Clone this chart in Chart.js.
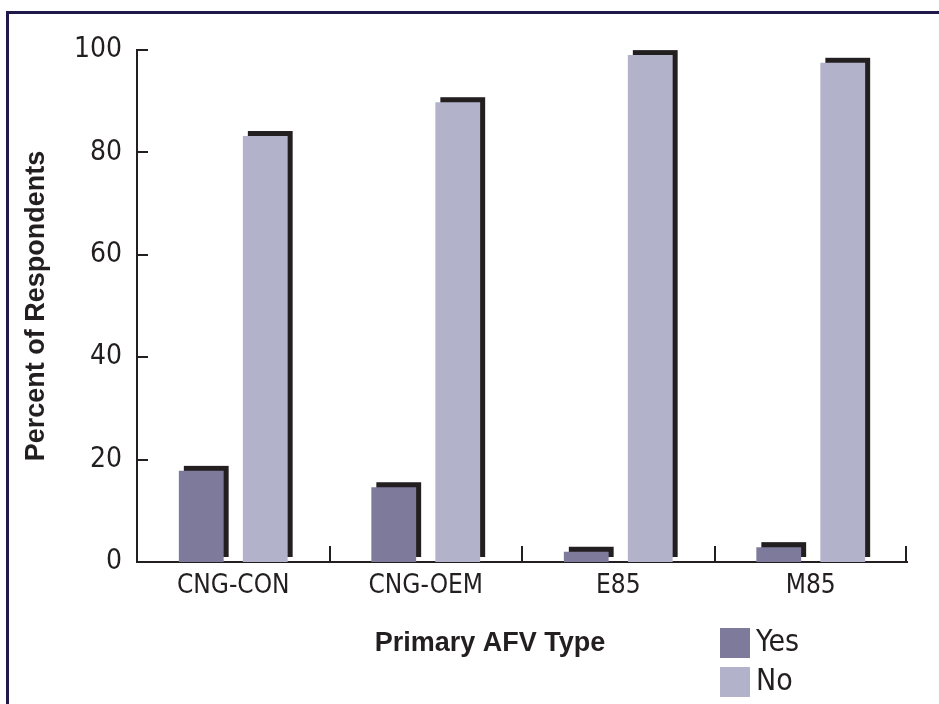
<!DOCTYPE html>
<html lang="en">

<head>
  <meta charset="UTF-8">
  <title>Primary AFV Type</title>
  <script src="https://cdn.jsdelivr.net/npm/chart.js"></script>
  <style>
    body {
      margin: 0;
      background: #ffffff;
      overflow: hidden;
    }

    .frame {
      position: absolute;
      left: 6px;
      top: 11px;
      width: 2000px;
      height: 2000px;
      border-left: 3px solid #1f1a4a;
      border-top: 3px solid #1f1a4a;
    }

    .wrap {
      position: absolute;
      left: 0;
      top: 0;
      width: 939px;
      height: 704px;
    }
  </style>
</head>

<body>
  <div class="frame"></div>
  <div class="wrap">
    <canvas id="afvChart" width="939" height="704"></canvas>
  </div>

  <script>
    const categories = ["CNG-CON", "CNG-OEM", "E85", "M85"];
    const yesValues = [17.8, 14.6, 2.0, 2.9];
    const noValues = [83.2, 89.8, 99.0, 97.5];
    const yTicks = [0, 20, 40, 60, 80, 100];

    const ink = "#231f20";
    const narrow = "'DejaVu Sans Condensed', 'Liberation Sans', sans-serif";
    const regular = "'Liberation Sans', Arial, sans-serif";

    // black block behind each bar, shifted up and right
    const shadowPlugin = {
      id: "shadow",
      beforeDatasetsDraw(chart) {
        const ctx = chart.ctx;
        ctx.save();
        ctx.fillStyle = ink;
        chart.data.datasets.forEach((ds, i) => {
          chart.getDatasetMeta(i).data.forEach(bar => {
            const h = bar.base - bar.y;
            ctx.fillRect(bar.x - bar.width / 2 + 5, bar.y - 5, bar.width, h);
          });
        });
        ctx.restore();
      }
    };

    // inward ticks, x title and legend
    const decorPlugin = {
      id: "decor",
      afterDraw(chart) {
        const ctx = chart.ctx;
        const area = chart.chartArea;
        const y = chart.scales.y;
        const x = chart.scales.x;
        ctx.save();
        ctx.strokeStyle = ink;
        ctx.lineWidth = 2;

        yTicks.forEach(v => {
          const py = Math.round(y.getPixelForValue(v));
          ctx.beginPath();
          ctx.moveTo(area.left, py);
          ctx.lineTo(area.left + 11, py);
          ctx.stroke();
        });

        const step = (x.right - x.left) / categories.length;
        for (let i = 1; i <= categories.length; i++) {
          const px = Math.round(x.left + i * step) - (i === categories.length ? 1 : 0);
          ctx.beginPath();
          ctx.moveTo(px, area.bottom);
          ctx.lineTo(px, area.bottom - 16);
          ctx.stroke();
        }

        ctx.fillStyle = ink;
        ctx.font = "bold 27px " + regular;
        ctx.textAlign = "center";
        ctx.textBaseline = "alphabetic";
        ctx.fillText("Primary AFV Type", 490, 651);

        const items = chart.data.datasets;
        ctx.font = "30px " + narrow;
        ctx.textAlign = "left";
        ctx.textBaseline = "middle";
        items.forEach((ds, i) => {
          const top = 628 + i * 39;
          ctx.fillStyle = ds.backgroundColor;
          ctx.fillRect(720, top, 30, 30);
          ctx.fillStyle = ink;
          ctx.fillText(ds.label, 756, top + 15);
        });
        ctx.restore();
      }
    };

    new Chart(document.getElementById("afvChart"), {
      type: "bar",
      data: {
        labels: categories,
        datasets: [
          { label: "Yes", data: yesValues, backgroundColor: "#7e7a9c", borderWidth: 0 },
          { label: "No", data: noValues, backgroundColor: "#b3b2cb", borderWidth: 0 }
        ]
      },
      options: {
        responsive: false,
        animation: false,
        categoryPercentage: 0.665,
        barPercentage: 0.70,
        layout: {
          padding: { top: 50, right: 32, left: 0, bottom: 0 }
        },
        plugins: {
          legend: { display: false },
          tooltip: { enabled: false }
        },
        scales: {
          x: {
            grid: { display: false, drawTicks: false },
            border: { display: true, color: ink, width: 2 },
            ticks: {
              color: ink,
              padding: 9,
              font: { family: narrow, size: 26 }
            },
            afterFit(scale) { scale.height = 142; }
          },
          y: {
            min: 0,
            max: 100,
            grid: { display: false, drawTicks: false },
            border: { display: true, color: ink, width: 2 },
            ticks: {
              stepSize: 20,
              color: ink,
              padding: 15,
              font: { family: narrow, size: 28 }
            },
            title: {
              display: true,
              text: "Percent of Respondents",
              color: ink,
              padding: { top: 20, bottom: 0 },
              font: { family: regular, size: 27, weight: "bold" }
            },
            afterFit(scale) { scale.width = 137; }
          }
        }
      },
      plugins: [shadowPlugin, decorPlugin]
    });
  </script>
</body>

</html>
